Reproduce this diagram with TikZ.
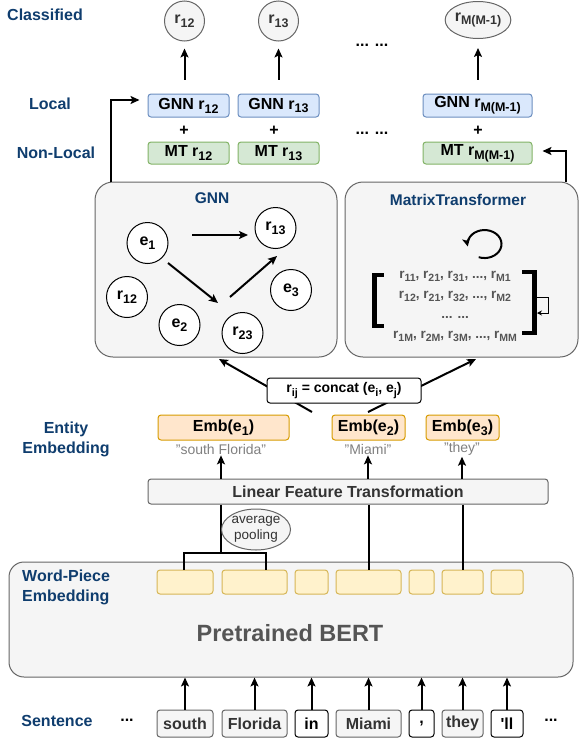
\documentclass[tikz,border=0pt]{standalone}
\usepackage{fontspec}
\usepackage{graphicx}
\setmainfont{Liberation Sans}
\newfontfamily\plainhv{Liberation Sans}
\usetikzlibrary{arrows.meta,shapes.geometric}
\definecolor{lblue}{HTML}{0F3D6E}
\definecolor{gnnF}{HTML}{DAE8FC}
\definecolor{gnnB}{HTML}{6C8EBF}
\definecolor{mtF}{HTML}{D5E8D4}
\definecolor{mtB}{HTML}{82B366}
\definecolor{embF}{HTML}{FFE6CC}
\definecolor{embB}{HTML}{D79B00}
\definecolor{wpF}{HTML}{FFF2CC}
\definecolor{wpB}{HTML}{D6B656}
\definecolor{grF}{HTML}{F5F5F5}
\definecolor{grB}{HTML}{666666}
\definecolor{dtxt}{HTML}{333333}
\definecolor{qtxt}{HTML}{808080}
\definecolor{btxt}{HTML}{555555}
\newcommand\fsz[2]{\fontsize{#1}{#2}\selectfont}
\newcommand\sbs[1]{\raisebox{-0.24em}{\scalebox{0.78}{#1}}}
\begin{document}
\begin{tikzpicture}[x=1pt,y=-1pt,
  lbl/.style={font=\bfseries\fsz{16}{20}, text=lblue, align=center, inner sep=0pt},
  arr/.style={line width=2pt, -{Stealth[length=9pt,width=8pt,inset=2pt]}},
  ln/.style={line width=2pt},
  gnnb/.style={draw=gnnB, fill=gnnF, line width=1pt, rounded corners=3pt, minimum height=23pt, inner sep=0pt, font=\bfseries\fsz{16}{19}},
  mtb/.style={gnnb, draw=mtB, fill=mtF, minimum height=22pt},
  clsnode/.style={circle, draw=grB, fill=grF, line width=1pt, minimum size=40pt, inner sep=0pt, font=\bfseries\fsz{16}{19}, text=dtxt},
  panel/.style={draw=grB, fill=grF, line width=1pt, rounded corners=18pt, inner sep=0pt},
  ent/.style={circle, draw=black, fill=white, line width=1pt, minimum size=41pt, inner sep=0pt, font=\bfseries\fsz{16}{19}},
  embb/.style={draw=embB, fill=embF, line width=1pt, rounded corners=3pt, minimum height=25pt, inner sep=0pt, font=\bfseries\fsz{16}{19}},
  quote/.style={text=qtxt, font=\fsz{14}{16}, inner sep=1pt},
  wp/.style={draw=wpB, fill=wpF, line width=1pt, rounded corners=3pt, minimum height=24pt, inner sep=0pt},
  tokg/.style={draw=grB, fill=grF, line width=1pt, rounded corners=3pt, minimum height=27pt, inner sep=0pt, font=\bfseries\fsz{16}{19}, text=dtxt},
  tokw/.style={tokg, draw=black, fill=white, text=black},
  dots/.style={font=\bfseries\fsz{16}{19}, inner sep=0pt},
  ttl/.style={font=\bfseries\fsz{15.5}{18}, text=lblue, inner sep=0pt}
]
\useasboundingbox (0,0) rectangle (581,742);

% panels
\node[panel, minimum width=242pt, minimum height=175pt] (gnnp) at (216,269.5) {};
\node[panel, minimum width=233pt, minimum height=175pt] (mtp) at (461.5,269.5) {};
\node[panel, rounded corners=15pt, minimum width=564pt, minimum height=115pt] (bert) at (291,619.5) {};

% left labels
\node[lbl] (lcls) at (45,15) {Classified};
\node[lbl] (lloc) at (50,104) {Local};
\node[lbl] (lnl) at (56,153) {Non-Local};
\node[lbl] (lent) at (66,439) {Entity\\Embedding};
\node[lbl, align=left, anchor=west] (lwp) at (22,587) {Word-Piece\\Embedding};
\node[lbl] (lsen) at (57,721) {Sentence};

% classified
\node[clsnode] (c1) at (184.5,21) {r\sbs{12}};
\node[clsnode] (c2) at (278.5,21) {r\sbs{13}};
\node[clsnode, ellipse, minimum width=64pt, minimum height=37pt] (c3) at (478,20) {r\sbs{M(M-1)}};
\node[dots] (d1) at (372,45) {... ...};
\node[dots] (d2) at (372,133) {... ...};

% local / non-local
\node[gnnb, minimum width=81pt] (g1) at (188.5,105.5) {GNN r\sbs{12}};
\node[gnnb, minimum width=81pt] (g2) at (278.5,105.5) {GNN r\sbs{13}};
\node[gnnb, minimum width=109pt] (g3) at (477.5,105.5) {GNN r\sbs{M(M-1)}};
\node[dots] (p1) at (184,131) {+};
\node[dots] (p2) at (274,131) {+};
\node[dots] (p3) at (478,131) {+};
\node[mtb, minimum width=81pt] (m1) at (188.5,153) {MT r\sbs{12}};
\node[mtb, minimum width=81pt] (m2) at (278.5,153) {MT r\sbs{13}};
\node[mtb, minimum width=109pt] (m3) at (477.5,153) {MT r\sbs{M(M-1)}};

\draw[arr, shorten <=14pt, shorten >=7pt] (c1.south |- g1.north) -- (c1.south);
\draw[arr, shorten <=14pt, shorten >=7pt] (c2.south |- g2.north) -- (c2.south);
\draw[arr, shorten <=14pt, shorten >=9pt] (c3.south |- g3.north) -- (c3.south);

\coordinate (lx) at (111,182);
\coordinate (rx) at (566,182);
\draw[arr, shorten >=8pt] (lx) |- ([yshift=5.5pt]g1.west);
\draw[arr, shorten >=10pt] (rx) |- ([yshift=2pt]m3.east);

% GNN panel content
\node[ttl] (gt) at (212,198) {GNN};
\node[ent] (n1) at (147.5,243) {e\sbs{1}};
\node[ent] (n13) at (275.5,228) {r\sbs{13}};
\node[ent] (n12) at (127,297) {r\sbs{12}};
\node[ent] (n2) at (179.5,325) {e\sbs{2}};
\node[ent] (n23) at (242.5,333) {r\sbs{23}};
\node[ent] (n3) at (291,290) {e\sbs{3}};
\coordinate (a1s) at (192,235);
\coordinate (a1e) at (248,235);
\coordinate (a2s) at (168,263);
\coordinate (a2e) at (218,303);
\coordinate (a3s) at (230,297);
\coordinate (a3e) at (277,256);
\draw[arr] (a1s) -- (a1e);
\draw[arr] (a2s) -- (a2e);
\draw[arr] (a3s) -- (a3e);

% MatrixTransformer content
\node[ttl] (mt) at (458,200) {MatrixTransformer};
\coordinate (lp) at (478.7,257.2);
\draw[line width=2pt, -{Stealth[length=8pt,width=8pt,inset=2pt]}] (lp) arc[start angle=110, end angle=-190, x radius=17, y radius=14];
\draw[line width=4.5pt] (383.5,275) -- (374.5,275) -- (374.5,326) -- (383.5,326);
\draw[line width=4.5pt] (522,272) -- (534.5,272) -- (534.5,333) -- (522,333);
\node[font=\bfseries\fsz{13.5}{20}, text=btxt, align=center, inner sep=0pt] (mx) at (455,306.5)
  {r\sbs{11}, r\sbs{21}, r\sbs{31}, ..., r\sbs{M1}\\
   r\sbs{12}, r\sbs{21}, r\sbs{32}, ..., r\sbs{M2}\\
   ... ...\\
   r\sbs{1M}, r\sbs{2M}, r\sbs{3M}, ..., r\sbs{MM}};
\coordinate (sl1) at (537,297);
\coordinate (sl2) at (548,297);
\coordinate (sl3) at (548,313);
\coordinate (sl4) at (537,313);
\draw[line width=1pt, -{Stealth[length=5pt,width=5pt]}] (sl1) -- (sl2) -- (sl3) -- (sl4);

% concat
\coordinate (cl) at (312,412);
\coordinate (cr) at (368,412);
\draw[arr] (cl) -- ([xshift=3pt,yshift=-1.5pt]gnnp.south);
\draw[arr] (cr) -- ([xshift=14.5pt,yshift=-1.5pt]mtp.south);
\node[draw, fill=white, line width=1pt, rounded corners=3pt, minimum width=154pt, minimum height=25pt, inner sep=0pt, font=\bfseries\fsz{14}{17}] (cc) at (344,390.5) {r\sbs{ij} = concat (e\sbs{i}, e\sbs{j})};

% entity embedding
\node[embb, minimum width=131pt] (e1b) at (223.5,427.5) {Emb(e\sbs{1})};
\node[embb, minimum width=73pt] (e2b) at (368.5,427.5) {Emb(e\sbs{2})};
\node[embb, minimum width=73pt] (e3b) at (462.5,427.5) {Emb(e\sbs{3})};
\node[quote] (q1) at (221,449) {"south Florida"};
\node[quote] (q2) at (368,449) {"Miami"};
\node[quote] (q3) at (462,449) {"they"};

% linear feature transformation
\node[draw=grB, fill=grF, line width=1pt, rounded corners=3pt, minimum width=400pt, minimum height=25pt, inner sep=0pt, font=\bfseries\fsz{16}{19}, text=dtxt] (lft) at (348,491.5) {Linear Feature Transformation};
\draw[arr] (lft.north -| q1) -- (q1.south);
\draw[arr] (lft.north -| q2) -- (q2.south);
\draw[arr] (lft.north -| q3) -- (q3.south);

% word pieces
\node[wp, minimum width=56pt] (w1) at (185,582) {};
\node[wp, minimum width=65pt] (w2) at (254.5,582) {};
\node[wp, minimum width=33pt] (w3) at (311.5,582) {};
\node[wp, minimum width=65pt] (w4) at (368.5,582) {};
\node[wp, minimum width=25pt] (w5) at (421.5,582) {};
\node[wp, minimum width=41pt] (w6) at (462.5,582) {};
\node[wp, minimum width=32pt] (w7) at (507,582) {};
\node[font=\bfseries\fsz{23.5}{28}, text=btxt] (pb) at (290,633) {Pretrained BERT};

% pooling connectors
\coordinate (bj) at (221,553);
\coordinate (bl) at (184,553);
\coordinate (br) at (266,553);
\draw[ln] (lft.south -| bj) -- (bj);
\draw[ln] (bl |- w1.north) -- (bl) -- (br) -- (br |- w2.north);
\draw[ln] (lft.south -| w4.north) -- (w4.north);
\draw[ln] (lft.south -| w6.north) -- (w6.north);
\node[ellipse, draw=grB, fill=grF, line width=1pt, minimum width=66pt, minimum height=41pt, inner sep=0pt, align=center, font=\fsz{13.5}{16}, text=dtxt] (avg) at (256,529.5) {average\\pooling};

% sentence tokens
\node[tokg, minimum width=56pt] (t1) at (185,723.5) {south};
\node[tokg, minimum width=65pt] (t2) at (254.5,723.5) {Florida};
\node[tokw, minimum width=33pt] (t3) at (311.5,723.5) {in};
\node[tokg, minimum width=65pt] (t4) at (368.5,723.5) {Miami};
\node[tokw, minimum width=25pt] (t5) at (421.5,723.5) {,};
\node[tokg, minimum width=41pt] (t6) at (462.5,723.5) {they};
\node[tokw, minimum width=32pt] (t7) at (507,723.5) {\plainhv\bfseries 'll};
\node[dots] (sd1) at (127,720) {...};
\node[dots] (sd2) at (551,720) {...};
\foreach \t in {t1,t2,t3,t4,t5,t6,t7}
  \draw[arr] (\t.north) -- (\t.north |- bert.south);
\end{tikzpicture}
\end{document}
